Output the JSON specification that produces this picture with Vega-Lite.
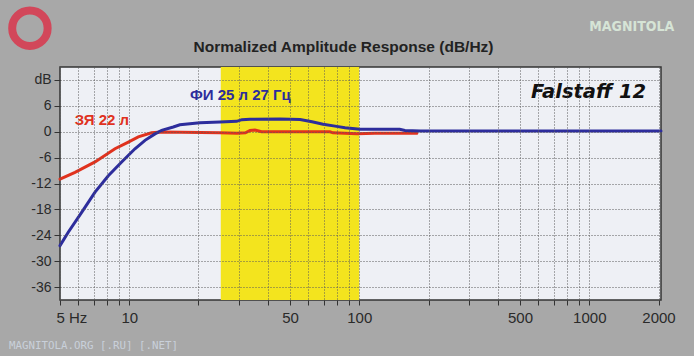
{
  "$schema": "https://vega.github.io/schema/vega-lite/v6.json",
  "width": 601,
  "height": 233,
  "autosize": {"type": "none"},
  "padding": {"left": 60, "top": 67, "right": 33, "bottom": 56},
  "background": "#a8a8a8",
  "config": {
    "view": {"fill": "#eef0f5", "stroke": "#333333", "strokeWidth": 1.5},
    "axis": {"title": null, "labelOverlap": false}
  },
  "title": {
    "text": "Normalized Amplitude Response (dB/Hz)",
    "font": "Liberation Sans",
    "fontSize": 15.5,
    "fontWeight": "bold",
    "color": "#222222",
    "anchor": "middle",
    "baseline": "alphabetic",
    "offset": 0,
    "dx": -17,
    "dy": 73
  },
  "datasets": {
    "curves": [
      {"series": "ЗЯ 22 л", "freq": 5, "db": -11.0},
      {"series": "ЗЯ 22 л", "freq": 5.81, "db": -9.4},
      {"series": "ЗЯ 22 л", "freq": 7.1, "db": -7.0},
      {"series": "ЗЯ 22 л", "freq": 8.67, "db": -3.95},
      {"series": "ЗЯ 22 л", "freq": 9.91, "db": -2.4},
      {"series": "ЗЯ 22 л", "freq": 10.95, "db": -1.2},
      {"series": "ЗЯ 22 л", "freq": 12.5, "db": -0.25},
      {"series": "ЗЯ 22 л", "freq": 13.84, "db": -0.05},
      {"series": "ЗЯ 22 л", "freq": 24.8, "db": -0.25},
      {"series": "ЗЯ 22 л", "freq": 29.4, "db": -0.35},
      {"series": "ЗЯ 22 л", "freq": 32.0, "db": -0.25},
      {"series": "ЗЯ 22 л", "freq": 33.5, "db": 0.3},
      {"series": "ЗЯ 22 л", "freq": 35.2, "db": 0.4},
      {"series": "ЗЯ 22 л", "freq": 37.6, "db": 0.0},
      {"series": "ЗЯ 22 л", "freq": 74.6, "db": 0.0},
      {"series": "ЗЯ 22 л", "freq": 76.9, "db": -0.25},
      {"series": "ЗЯ 22 л", "freq": 97.8, "db": -0.45},
      {"series": "ЗЯ 22 л", "freq": 117, "db": -0.35},
      {"series": "ЗЯ 22 л", "freq": 178, "db": -0.35},
      {"series": "ФИ 25 л 27 Гц", "freq": 5, "db": -26.4},
      {"series": "ФИ 25 л 27 Гц", "freq": 5.43, "db": -23.3},
      {"series": "ФИ 25 л 27 Гц", "freq": 6.21, "db": -18.7},
      {"series": "ФИ 25 л 27 Гц", "freq": 7.1, "db": -14.0},
      {"series": "ФИ 25 л 27 Гц", "freq": 8.11, "db": -10.2},
      {"series": "ФИ 25 л 27 Гц", "freq": 9.27, "db": -7.0},
      {"series": "ФИ 25 л 27 Гц", "freq": 10.59, "db": -3.95},
      {"series": "ФИ 25 л 27 Гц", "freq": 11.71, "db": -2.0},
      {"series": "ФИ 25 л 27 Гц", "freq": 12.94, "db": -0.5},
      {"series": "ФИ 25 л 27 Гц", "freq": 13.84, "db": 0.3},
      {"series": "ФИ 25 л 27 Гц", "freq": 15.54, "db": 1.1},
      {"series": "ФИ 25 л 27 Гц", "freq": 16.6, "db": 1.6},
      {"series": "ФИ 25 л 27 Гц", "freq": 20.3, "db": 2.1},
      {"series": "ФИ 25 л 27 Гц", "freq": 24.8, "db": 2.25},
      {"series": "ФИ 25 л 27 Гц", "freq": 29.3, "db": 2.4},
      {"series": "ФИ 25 л 27 Гц", "freq": 30.9, "db": 2.8},
      {"series": "ФИ 25 л 27 Гц", "freq": 33.5, "db": 2.9},
      {"series": "ФИ 25 л 27 Гц", "freq": 45.2, "db": 2.95},
      {"series": "ФИ 25 л 27 Гц", "freq": 55.3, "db": 2.85},
      {"series": "ФИ 25 л 27 Гц", "freq": 62.3, "db": 2.3},
      {"series": "ФИ 25 л 27 Гц", "freq": 69.6, "db": 1.75},
      {"series": "ФИ 25 л 27 Гц", "freq": 78.5, "db": 1.3},
      {"series": "ФИ 25 л 27 Гц", "freq": 86.7, "db": 0.9},
      {"series": "ФИ 25 л 27 Гц", "freq": 100.7, "db": 0.6},
      {"series": "ФИ 25 л 27 Гц", "freq": 150, "db": 0.55},
      {"series": "ФИ 25 л 27 Гц", "freq": 158, "db": 0.3},
      {"series": "ФИ 25 л 27 Гц", "freq": 184, "db": 0.15},
      {"series": "ФИ 25 л 27 Гц", "freq": 2050, "db": 0.15}
    ]
  },
  "layer": [
    {
      "data": {"values": [{"start": 25, "end": 100}]},
      "mark": {"type": "rect", "color": "#f3e41e"},
      "encoding": {
        "x": {
          "field": "start",
          "type": "quantitative",
          "scale": {"type": "log", "domain": [5, 2050], "nice": false},
          "axis": {
            "values": [5, 6, 7, 8, 9, 10, 20, 30, 40, 50, 60, 70, 80, 90, 100, 200, 300, 400, 500, 600, 700, 800, 900, 1000, 2000],
            "tickCount": 40,
            "labelExpr": "datum.value == 5 ? '5 Hz' : (indexof([10, 50, 100, 500, 1000, 2000], datum.value) >= 0 ? '' + datum.value : '')",
            "labelAlign": {"condition": {"test": "datum.value == 5", "value": "left"}, "value": "center"},
            "labelOffset": {"condition": {"test": "datum.value == 5", "value": -4}, "value": 0},
            "labelFlush": false,
            "labelOverlap": false,
            "labelFont": "Liberation Sans",
            "labelFontSize": 15,
            "labelColor": "#2a2a2a",
            "labelPadding": 5,
            "tickSize": 5,
            "tickColor": "#333333",
            "domain": false,
            "grid": true,
            "gridColor": "#5a5a5a",
            "gridDash": [1, 2],
            "gridWidth": 1,
            "zindex": 1
          }
        },
        "x2": {"field": "end"}
      }
    },
    {
      "data": {"name": "curves"},
      "mark": {"type": "line", "strokeWidth": 3, "strokeCap": "round"},
      "encoding": {
        "x": {"field": "freq", "type": "quantitative"},
        "y": {
          "field": "db",
          "type": "quantitative",
          "scale": {"domain": [-39, 15], "nice": false, "zero": false},
          "axis": {
            "values": [-36, -30, -24, -18, -12, -6, 0, 6, 12],
            "tickCount": 20,
            "labelExpr": "datum.value == 12 ? 'dB' : '' + datum.value",
            "labelOverlap": false,
            "labelFont": "Liberation Sans",
            "labelFontSize": 14,
            "labelColor": "#2a2a2a",
            "labelPadding": 3,
            "tickSize": 6,
            "tickColor": "#333333",
            "domain": false,
            "grid": true,
            "gridColor": "#5a5a5a",
            "gridDash": [1, 2],
            "gridWidth": 1,
            "zindex": 1
          }
        },
        "color": {
          "field": "series",
          "type": "nominal",
          "scale": {"domain": ["ЗЯ 22 л", "ФИ 25 л 27 Гц"], "range": ["#e0321e", "#2d2d9c"]},
          "legend": null
        }
      }
    },
    {
      "data": {"values": [{"freq": 7.6, "db": 2.8, "label": "ЗЯ 22 л"}]},
      "mark": {"type": "text", "font": "Liberation Sans", "fontSize": 15, "fontWeight": "bold", "color": "#e0321e", "align": "center", "baseline": "middle"},
      "encoding": {
        "x": {"field": "freq", "type": "quantitative"},
        "y": {"field": "db", "type": "quantitative"},
        "text": {"field": "label"}
      }
    },
    {
      "data": {"values": [{"freq": 30.4, "db": 8.4, "label": "ФИ 25 л 27 Гц"}]},
      "mark": {"type": "text", "font": "Liberation Sans", "fontSize": 15, "fontWeight": "bold", "color": "#2d2d9c", "align": "center", "baseline": "middle"},
      "encoding": {
        "x": {"field": "freq", "type": "quantitative"},
        "y": {"field": "db", "type": "quantitative"},
        "text": {"field": "label"}
      }
    },
    {
      "data": {"values": [{"freq": 993, "db": 9.2, "label": "Falstaff 12"}]},
      "mark": {"type": "text", "font": "DejaVu Sans", "fontSize": 19.5, "fontWeight": "bold", "fontStyle": "italic", "color": "#111111", "align": "center", "baseline": "middle"},
      "encoding": {
        "x": {"field": "freq", "type": "quantitative"},
        "y": {"field": "db", "type": "quantitative"},
        "text": {"field": "label"}
      }
    },
    {
      "data": {"values": [{"freq": 1530, "db": 24.3, "label": "MAGNITOLA"}]},
      "mark": {"type": "text", "font": "DejaVu Sans Condensed, Liberation Sans, sans-serif", "fontSize": 14, "fontWeight": "bold", "color": "#d6e4d6", "align": "center", "baseline": "middle"},
      "encoding": {
        "x": {"field": "freq", "type": "quantitative"},
        "y": {"field": "db", "type": "quantitative"},
        "text": {"field": "label"}
      }
    },
    {
      "data": {"values": [{"freq": 3.0, "db": -49.7, "label": "MAGNITOLA.ORG [.RU] [.NET]"}]},
      "mark": {"type": "text", "font": "DejaVu Sans Mono", "fontSize": 10.8, "color": "#c9d0da", "align": "left", "baseline": "middle"},
      "encoding": {
        "x": {"field": "freq", "type": "quantitative"},
        "y": {"field": "db", "type": "quantitative"},
        "text": {"field": "label"}
      }
    },
    {
      "data": {"values": [{"freq": 3.7, "db": 24, "label": "logo"}]},
      "mark": {"type": "point", "shape": "circle", "filled": false, "stroke": "#d2475a", "strokeWidth": 8, "size": 1257, "opacity": 1},
      "encoding": {
        "x": {"field": "freq", "type": "quantitative"},
        "y": {"field": "db", "type": "quantitative"}
      }
    }
  ]
}
